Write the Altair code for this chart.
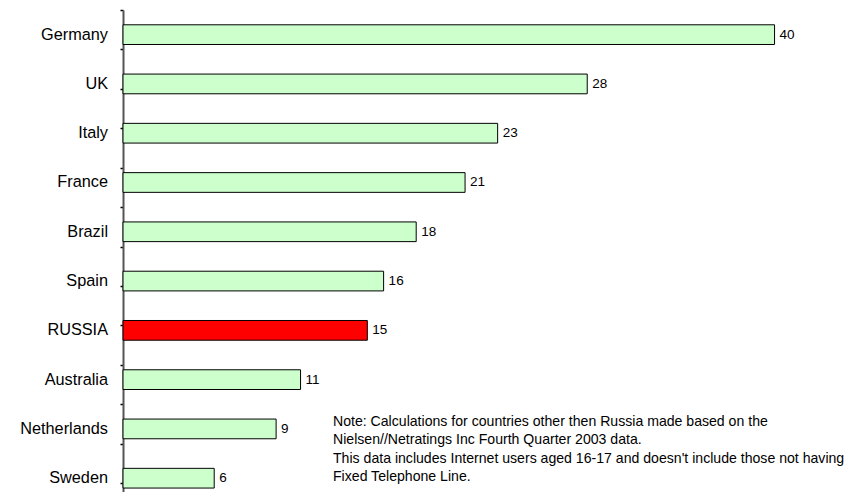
import altair as alt
import pandas as pd

countries = ["Germany", "UK", "Italy", "France", "Brazil", "Spain", "RUSSIA",
             "Australia", "Netherlands", "Sweden"]
values = [40, 28.5, 23, 21, 18, 16, 15, 10.9, 9.4, 5.6]
value_labels = ["40", "28", "23", "21", "18", "16", "15", "11", "9", "6"]
highlight = [False, False, False, False, False, False, True, False, False, False]
note_lines = [
    "Note: Calculations for countries other then Russia made based on the",
    "Nielsen//Netratings Inc Fourth Quarter 2003 data.",
    "This data includes Internet users aged 16-17 and doesn't include those not having",
    "Fixed Telephone Line.",
]

df = pd.DataFrame({
    "country": countries,
    "value": values,
    "label": value_labels,
    "russia": highlight,
    "idx": list(range(len(countries))),
})

FONT = "Liberation Sans"
YMAX = 9.78

yscale = alt.Scale(domain=[0, YMAX], reverse=True, nice=False, zero=False, padding=0)
xscale = alt.Scale(domain=[0, 45], nice=False)

base = alt.Chart(df).transform_calculate(
    lo="datum.idx + 0.3", hi="datum.idx + 0.7", mid="datum.idx + 0.5"
)

bars = base.mark_bar(stroke="black", strokeWidth=1, orient="horizontal").encode(
    x=alt.X("value:Q", scale=xscale, axis=None),
    y=alt.Y("lo:Q", scale=yscale,
            axis=alt.Axis(title=None, labels=False, grid=False,
                          values=[i / 5 for i in range(49)],
                          domainColor="#555555", domainWidth=2,
                          tickColor="black", tickSize=3, tickWidth=1.5)),
    y2="hi:Q",
    color=alt.Color("russia:N", scale=alt.Scale(domain=[False, True],
                                               range=["#ccffcc", "#ff0000"]),
                    legend=None),
)

vals = base.mark_text(align="left", baseline="middle", dx=5, font=FONT,
                      fontSize=13.5, color="black").encode(
    x=alt.X("value:Q", scale=xscale, axis=None),
    y=alt.Y("mid:Q", scale=yscale),
    text="label:N",
)

cats = base.mark_text(align="right", baseline="middle", font=FONT,
                      fontSize=16.3, color="black").encode(
    x=alt.value(-15),
    y=alt.Y("mid:Q", scale=yscale),
    text="country:N",
)

note = alt.Chart(pd.DataFrame({"t": [0]})).mark_text(
    align="left", baseline="middle", font=FONT, fontSize=14.1, lineHeight=18.3,
    color="black"
).encode(
    x=alt.value(210),
    y=alt.value(412),
    text=alt.value(note_lines),
)

chart = alt.layer(bars, vals, cats, note).properties(
    width=733, height=482,
    padding={"left": 115, "top": 2, "right": 0, "bottom": 0},
    autosize=alt.AutoSizeParams(type="none"),
).configure_view(stroke=None)

chart.save("out.html", embed_options={"renderer": "svg", "actions": False})
